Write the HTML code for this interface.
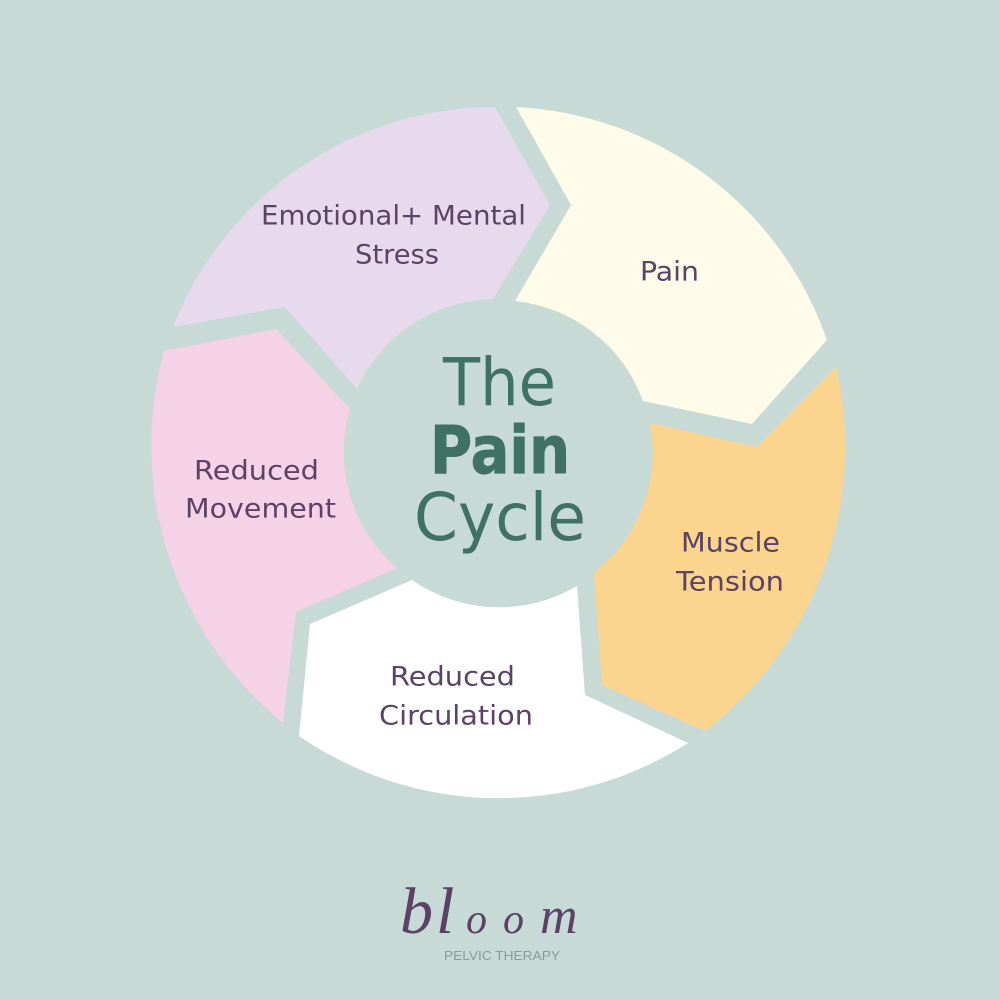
<!DOCTYPE html>
<html><head><meta charset="utf-8">
<style>html,body{margin:0;padding:0;background:#c8dad5}svg{display:block}
text{font-family:"DejaVu Sans","Liberation Sans",sans-serif}</style></head>
<body>
<svg width="1000" height="1000" viewBox="0 0 1000 1000" xmlns="http://www.w3.org/2000/svg">
<rect width="1000" height="1000" fill="#c8dad5"/>
<path d="M173 327A347 347 0 0 1 495 107L550 205L493 299A153 153 0 0 0 357 389L285 307Z" fill="#e7daec"/>
<path d="M516 107A347 347 0 0 1 827 340L752 424L643 401A153 153 0 0 0 515 301L571 205Z" fill="#fefbe9"/>
<path d="M836 367A358 358 0 0 1 705 731L602 685L594 573A153 153 0 0 0 650 423L757 447Z" fill="#fbd48e"/>
<path d="M688 743A352 352 0 0 1 299 736L310 624L412 580A153 153 0 0 0 577 586L585 695Z" fill="#ffffff"/>
<path d="M283 723A358 358 0 0 1 164 351L276 329L350 409A153 153 0 0 0 397 568L296 612Z" fill="#f6d2e7"/>
<g fill="#5b4266" font-size="27">
<text x="261" y="224.500" textLength="265" lengthAdjust="spacingAndGlyphs">Emotional+ Mental</text>
<text x="355" y="263.500" textLength="84" lengthAdjust="spacingAndGlyphs">Stress</text>
<text x="640" y="280.500" textLength="59" lengthAdjust="spacingAndGlyphs">Pain</text>
<text x="681" y="551.500" textLength="99" lengthAdjust="spacingAndGlyphs">Muscle</text>
<text x="676" y="590.500" textLength="108" lengthAdjust="spacingAndGlyphs">Tension</text>
<text x="390" y="685.500" textLength="125" lengthAdjust="spacingAndGlyphs">Reduced</text>
<text x="379" y="724.500" textLength="154" lengthAdjust="spacingAndGlyphs">Circulation</text>
<text x="194" y="479.500" textLength="125" lengthAdjust="spacingAndGlyphs">Reduced</text>
<text x="185" y="517.500" textLength="151" lengthAdjust="spacingAndGlyphs">Movement</text>
</g>
<g fill="#3f7264">
<text x="443" y="405" font-size="66" textLength="113" lengthAdjust="spacingAndGlyphs">The</text>
<text x="430" y="473" font-size="66" font-weight="700" stroke="#3f7264" stroke-width="1" textLength="140" lengthAdjust="spacingAndGlyphs">Pain</text>
<text x="414" y="540" font-size="66" textLength="172" lengthAdjust="spacingAndGlyphs">Cycle</text>
</g>
<text y="933" fill="#5b4266" style="font-family:'Liberation Serif',serif;font-style:italic"><tspan x="400" font-size="66">b</tspan><tspan x="436" font-size="66">l</tspan><tspan x="466" font-size="42">o</tspan><tspan x="503" font-size="42">o</tspan><tspan x="540" font-size="52">m</tspan></text>
<text x="444" y="960" font-size="13" fill="#8b9a99" textLength="116" lengthAdjust="spacingAndGlyphs" style="font-family:'Liberation Sans',sans-serif">PELVIC THERAPY</text>
</svg>
</body></html>
